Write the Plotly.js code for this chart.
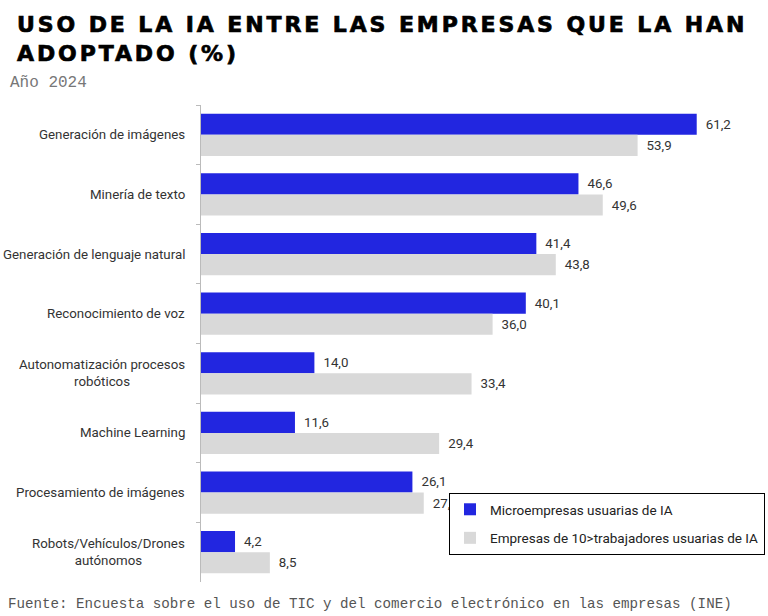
<!DOCTYPE html>
<html>
<head>
<meta charset="utf-8">
<script src="https://cdn.plot.ly/plotly-3.0.1.min.js"></script>
<style>
  html, body { margin: 0; padding: 0; background: #fff; }
  #chart { width: 768px; height: 616px; }
  .gtitle { letter-spacing: 2.9px; stroke: #000; stroke-width: 0.7px; }
</style>
</head>
<body>
<div id="chart"></div>
<script>
const categories = [
  "Generación de imágenes",
  "Minería de texto",
  "Generación de lenguaje natural",
  "Reconocimiento de voz",
  "Autonomatización procesos<br>robóticos",
  "Machine Learning",
  "Procesamiento de imágenes",
  "Robots/Vehículos/Drones<br>autónomos"
];
const microempresas = [61.2, 46.6, 41.4, 40.1, 14.0, 11.6, 26.1, 4.2];
const empresas10 = [53.9, 49.6, 43.8, 36.0, 33.4, 29.4, 27.5, 8.5];
const seriesNames = ["Microempresas usuarias de IA", "Empresas de 10>trabajadores usuarias de IA"];

const labelFont = { family: "Roboto, 'Noto Sans', sans-serif", size: 13.3, color: "#333333" };
const monoFont = "'Liberation Mono', 'DejaVu Sans Mono', monospace";

// plot-area geometry (pixels) used to place paper-referenced items
const plotL = 201, plotR = 768, plotT = 105, plotB = 582;
const pw = plotR - plotL, ph = plotB - plotT;
const xMax = pw / 8.1;

const traces = [
  {
    type: "bar", orientation: "h", name: seriesNames[0], legendgroup: "a",
    y: categories, x: microempresas,
    marker: { color: "#2226E0", line: { width: 0 } },
    texttemplate: "\u00a0\u2009%{x:.1f}", textposition: "outside", cliponaxis: false,
    textfont: labelFont, hoverinfo: "skip"
  },
  {
    type: "bar", orientation: "h", name: seriesNames[1], legendgroup: "b",
    y: categories, x: empresas10,
    marker: { color: "#D9D9D9", line: { width: 0 } },
    texttemplate: "\u00a0\u2009%{x:.1f}", textposition: "outside", cliponaxis: false,
    textfont: labelFont, hoverinfo: "skip"
  }
];

const annotations = categories.map(c => ({
  xref: "paper", yref: "y", x: 0, y: c, xanchor: "right", yanchor: "middle",
  xshift: -14, text: c, showarrow: false, align: "center", font: labelFont
}));

annotations.push({
  xref: "paper", yref: "paper", x: (8 - plotL) / pw, y: (plotB - 83) / ph, xanchor: "left", yanchor: "middle",
  text: "Año 2024", showarrow: false,
  font: { family: monoFont, size: 16, color: "#777777" }
});
annotations.push({
  xref: "paper", yref: "paper", x: (6 - plotL) / pw, y: (plotB - 604) / ph, xanchor: "left", yanchor: "middle",
  text: "Fuente: Encuesta sobre el uso de TIC y del comercio electrónico en las empresas (INE)", showarrow: false,
  font: { family: monoFont, size: 14.2, color: "#555555" }
});

const layout = {
  width: 768, height: 616,
  margin: { l: plotL, r: 768 - plotR, t: plotT, b: 616 - plotB },
  paper_bgcolor: "#ffffff", plot_bgcolor: "#ffffff",
  separators: ",.",
  title: {
    text: "USO DE LA IA ENTRE LAS EMPRESAS QUE LA HAN<br>ADOPTADO (%)",
    xref: "container", yref: "container", x: 17 / 768, xanchor: "left", y: 1 - 32 / 616, yanchor: "top",
    font: { family: "'DejaVu Sans', Lato, sans-serif", size: 22, weight: 700, color: "#000000" }
  },
  barmode: "group", bargap: 0.29, bargroupgap: 0,
  xaxis: {
    range: [0, xMax], autorange: false, fixedrange: true,
    showticklabels: false, showgrid: false, zeroline: false, showline: false, ticks: ""
  },
  yaxis: {
    autorange: "reversed", showticklabels: false,
    ticks: "outside", tickson: "boundaries", ticklen: 4, tickcolor: "#BBBBBB",
    showline: true, linecolor: "#BBBBBB", linewidth: 1.5, showgrid: false, zeroline: false
  },
  showlegend: true,
  legend: {
    xref: "paper", yref: "paper", x: (449 - plotL) / pw, y: (plotB - 493) / ph, xanchor: "left", yanchor: "top",
    bgcolor: "#ffffff", bordercolor: "#000000", borderwidth: 1,
    font: { family: "Roboto, 'Noto Sans', sans-serif", size: 13.5, color: "#222222" },
    traceorder: "grouped", tracegroupgap: 8
  },
  annotations: annotations
};

Plotly.newPlot("chart", traces, layout, { displayModeBar: false, staticPlot: true });
</script>
</body>
</html>
